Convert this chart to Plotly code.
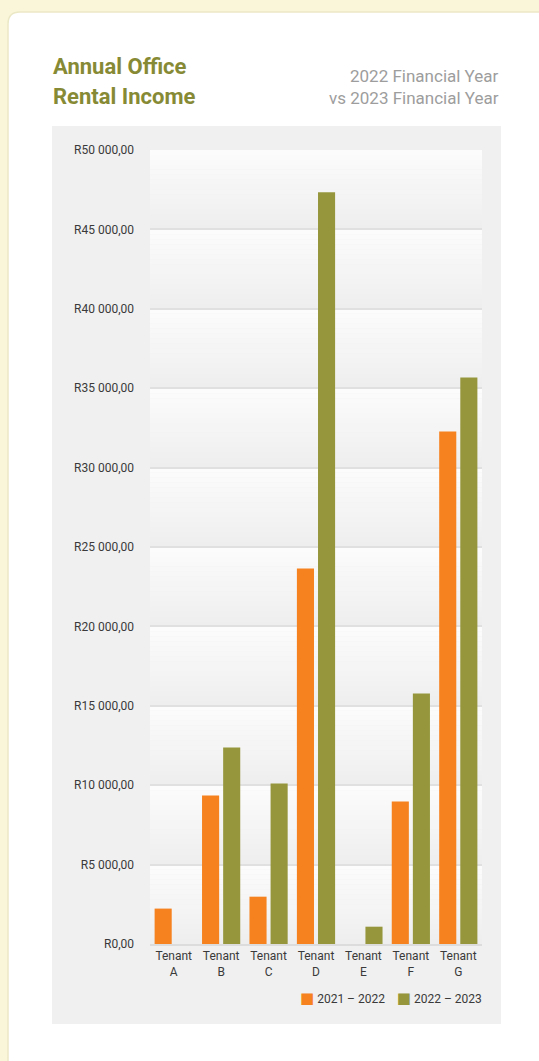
import plotly.graph_objects as go

# ---- data ----
tenants = ["Tenant<br>A", "Tenant<br>B", "Tenant<br>C", "Tenant<br>D",
           "Tenant<br>E", "Tenant<br>F", "Tenant<br>G"]
fy_2021_2022 = [2230, 9350, 2980, 23650, None, 8970, 32280]
fy_2022_2023 = [None, 12370, 10100, 47340, 1090, 15770, 35680]
series_names = ["2021 – 2022", "2022 – 2023"]
tick_vals = [0, 5000, 10000, 15000, 20000, 25000, 30000, 35000, 40000, 45000, 50000]
tick_text = ["R0,00", "R5 000,00", "R10 000,00", "R15 000,00", "R20 000,00",
             "R25 000,00", "R30 000,00", "R35 000,00", "R40 000,00",
             "R45 000,00", "R50 000,00"]

ORANGE = "#f5821f"
OLIVE = "#96973d"
PAGE = "#faf6d9"

W, H = 539, 1061
L, R, T, B = 150, 57, 150, 117
PW, PH = W - L - R, H - T - B


def px(x):
    return (x - L) / PW


def py(y):
    return (H - B - y) / PH


fig = go.Figure()
fig.add_trace(go.Bar(x=tenants, y=fy_2021_2022, name=series_names[0],
                     marker=dict(color=ORANGE, line=dict(width=0))))
fig.add_trace(go.Bar(x=tenants, y=fy_2022_2023, name=series_names[1],
                     marker=dict(color=OLIVE, line=dict(width=0))))

shapes = []
# white card with rounded top-left corner
r = 12
x0c, y0c = 8, 12
path = (f"M {px(x0c)},{py(H + 20)} L {px(x0c)},{py(y0c + r)} "
        f"Q {px(x0c)},{py(y0c)} {px(x0c + r)},{py(y0c)} "
        f"L {px(W + 20)},{py(y0c)} L {px(W + 20)},{py(H + 20)} Z")
shapes.append(dict(type="path", path=path, xref="paper", yref="paper",
                   fillcolor="#ffffff", line=dict(color="#ebe8c6", width=1.5),
                   layer="below"))
# grey chart panel
shapes.append(dict(type="rect", xref="paper", yref="paper",
                   x0=px(52), x1=px(501), y0=py(126), y1=py(1024),
                   fillcolor="#f0f0f0", line=dict(width=0), layer="below"))
# per-band vertical gradient in the plot area
steps = 16
top_c, bot_c = 252, 238
for i in range(len(tick_vals) - 1):
    lo, hi = tick_vals[i], tick_vals[i + 1]
    for s in range(steps):
        f = s / (steps - 1)
        c = round(top_c + (bot_c - top_c) * f)
        y_top = hi - (hi - lo) * s / steps
        y_bot = hi - (hi - lo) * (s + 1) / steps
        shapes.append(dict(type="rect", xref="x", yref="y", x0=-0.5, x1=6.5,
                           y0=y_bot, y1=y_top, fillcolor=f"rgb({c},{c},{c})",
                           line=dict(width=0), layer="below"))

TITLE_FONT = "Roboto"
sq = '<span style="color:{c};font-size:15px;font-family:DejaVu Sans">■</span>'
legend_text = (f'{sq.format(c=ORANGE)} {series_names[0]}'
               f'    {sq.format(c=OLIVE)} {series_names[1]}')
annotations = [
    dict(text="<b>Annual Office</b>", x=px(51), y=py(67), xref="paper", yref="paper",
         xanchor="left", yanchor="middle", showarrow=False,
         font=dict(family=TITLE_FONT, size=22, color="#878a35")),
    dict(text="<b>Rental Income</b>", x=px(51), y=py(96), xref="paper", yref="paper",
         xanchor="left", yanchor="middle", showarrow=False,
         font=dict(family=TITLE_FONT, size=22, color="#878a35")),
    dict(text="2022 Financial Year", x=px(501), y=py(76), xref="paper", yref="paper",
         xanchor="right", yanchor="middle", showarrow=False,
         font=dict(family=TITLE_FONT, size=17, color="#9d9d9d")),
    dict(text="vs 2023 Financial Year", x=px(501), y=py(98), xref="paper", yref="paper",
         xanchor="right", yanchor="middle", showarrow=False,
         font=dict(family=TITLE_FONT, size=17, color="#9d9d9d")),
    dict(text=legend_text, x=px(484), y=py(998), xref="paper", yref="paper",
         xanchor="right", yanchor="middle", showarrow=False,
         font=dict(family="Roboto", size=12, color="#3a3a3a")),
]

fig.update_layout(
    width=W, height=H,
    margin=dict(l=L, r=R, t=T, b=B, pad=0),
    paper_bgcolor=PAGE,
    plot_bgcolor="rgba(0,0,0,0)",
    barmode="group", bargap=0.11, bargroupgap=0.19,
    font=dict(family="Roboto", size=12, color="#3a3a3a"),
    shapes=shapes,
    annotations=annotations,
    showlegend=False,
    xaxis=dict(range=[-0.5, 6.5], showgrid=False, zeroline=False,
               showline=True, linecolor="#dcdcdc", linewidth=2,
               tickfont=dict(size=12, color="#3a3a3a"), ticks=""),
    yaxis=dict(range=[0, 50000], tickvals=tick_vals, ticktext=tick_text,
               showgrid=True, gridcolor="#e0e0e0", gridwidth=1.5,
               zeroline=False, showline=False, ticks="",
               ticklabelstandoff=15,
               tickfont=dict(size=12, color="#3a3a3a")),
)

fig.write_html(
    "out.html",
    config={"displayModeBar": False},
    post_script=f"document.body.style.margin='0';document.body.style.background='{PAGE}';"
                "document.body.style.overflow='hidden';",
)
